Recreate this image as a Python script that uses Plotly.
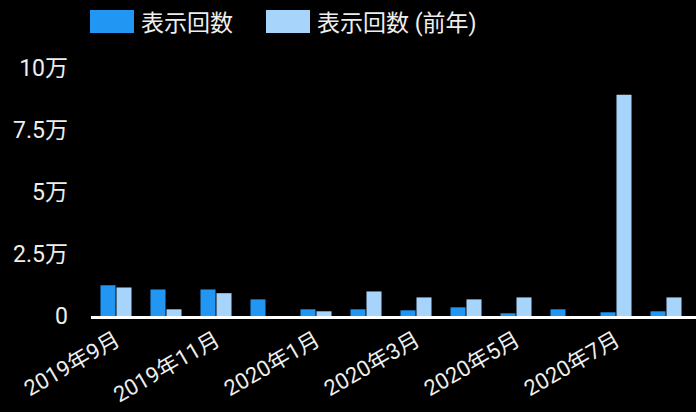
import plotly.graph_objects as go

months = ["2019年9月", "2019年10月", "2019年11月", "2019年12月", "2020年1月", "2020年2月",
          "2020年3月", "2020年4月", "2020年5月", "2020年6月", "2020年7月", "2020年8月"]
impressions = [12400, 10700, 10700, 6700, 2700, 2700, 2300, 3500, 1100, 2700, 1500, 1900]
impressions_prev = [11500, 2700, 9200, 0, 1900, 9900, 7500, 6700, 7500, 0, 89200, 7500]
series_names = ["表示回数", "表示回数 (前年)"]
series_colors = ["#2196f3", "#a6d4fa"]
y_tick_vals = [0, 25000, 50000, 75000, 100000]
y_tick_text = ["0", "2.5万", "5万", "7.5万", "10万"]
x_tick_labels = months[::2]

FONT = "Roboto, 'Noto Sans CJK JP', sans-serif"
TEXT = "#eeeeee"

# layout geometry (pixels)
W, H = 696, 412
ML, MR, MT, MB = 91, 0, 68, 96
PW, PH = W - ML - MR, H - MT - MB


def px_x(p):
    return (p - ML) / PW


def px_y(p):
    return 1 + (MT - p) / PH


fig = go.Figure()
fig.add_trace(go.Bar(x=months, y=impressions, name=series_names[0], legend="legend",
                     marker=dict(color=series_colors[0], line=dict(width=0))))
fig.add_trace(go.Bar(x=months, y=impressions_prev, name=series_names[1], legend="legend2",
                     marker=dict(color=series_colors[1], line=dict(width=0))))

leg_common = dict(orientation="h", xanchor="left", yanchor="middle", y=px_y(22),
                  font=dict(size=23, color=TEXT, family=FONT), bgcolor="rgba(0,0,0,0)")

# enlarged legend swatches behind the native symbols
swatches = []
for (x0, x1), c in zip([(90, 134), (266, 310)], series_colors):
    swatches.append(dict(type="rect", xref="paper", yref="paper",
                         x0=px_x(x0), x1=px_x(x1), y0=px_y(33), y1=px_y(10),
                         fillcolor=c, line=dict(width=0), layer="above"))

fig.update_layout(
    width=W, height=H,
    paper_bgcolor="#000000", plot_bgcolor="#000000",
    margin=dict(l=ML, r=MR, t=MT, b=MB, autoexpand=False),
    barmode="group", bargap=0.36, bargroupgap=0.06,
    font=dict(family=FONT, color=TEXT, size=22),
    showlegend=True,
    legend=dict(x=px_x(101), **leg_common),
    legend2=dict(x=px_x(277), **leg_common),
    shapes=swatches,
    xaxis=dict(type="category", categoryorder="array", categoryarray=months,
               range=[-0.5, 11.6], automargin=False,
               tickmode="array", tickvals=x_tick_labels, ticktext=x_tick_labels,
               tickangle=-30, tickfont=dict(size=22, color=TEXT, family=FONT),
               showline=True, linecolor="#ffffff", linewidth=3,
               showgrid=False, zeroline=False, ticks=""),
    yaxis=dict(range=[0, 100000], tickmode="array", tickvals=y_tick_vals,
               ticktext=y_tick_text, tickfont=dict(size=23, color=TEXT, family=FONT),
               showgrid=False, zeroline=False, showline=False, ticks="",
               automargin=False, ticklabelstandoff=22),
)

fig.write_html("out.html",
               config={"displayModeBar": False},
               post_script="document.body.style.margin='0';"
                           "document.body.style.background='#000';"
                           "document.body.style.overflow='hidden';")
